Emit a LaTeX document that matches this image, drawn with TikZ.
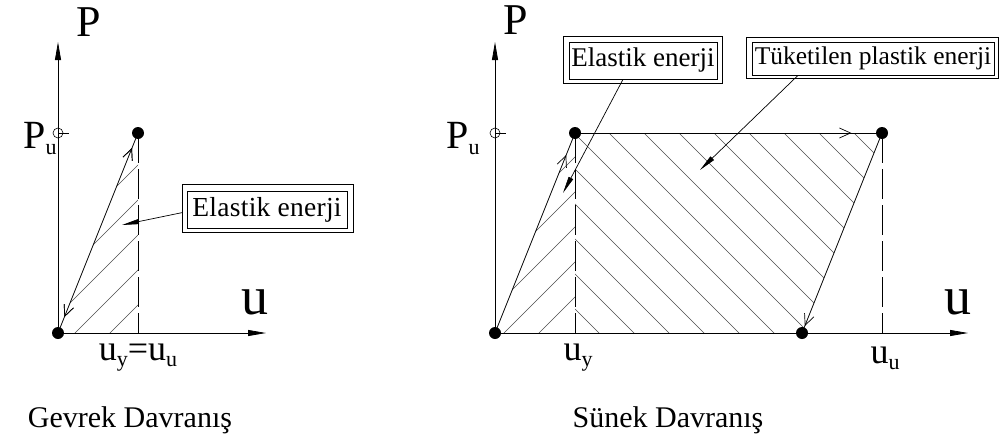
\documentclass[tikz,border=0pt]{standalone}
\usepackage{fontspec}
\setmainfont{Liberation Serif}
\usetikzlibrary{arrows.meta,decorations.markings}
\newcommand\fsz[1]{\fontsize{#1}{#1}\selectfont}
\newcommand\subs[1]{\raisebox{-6pt}{\fsz{22}#1}}
\begin{document}
\begin{tikzpicture}[x=1pt,y=-1pt,
  axis/.style={line width=0.8pt,-{Triangle[length=18pt,width=6pt]}},
  curve/.style={line width=0.8pt},
  hatch/.style={line width=0.6pt,black!70},
  dashv/.style={line width=0.8pt,dash pattern=on 30pt off 6pt},
  dot/.style={circle,fill=black,inner sep=0pt,minimum size=12pt},
  pmark/.style={circle,draw,line width=0.6pt,inner sep=0pt,minimum size=10pt},
  lbl/.style={inner sep=0pt},
  box/.style={draw,line width=0.7pt,inner sep=0pt},
  pointer/.style={line width=0.7pt,-{Triangle[length=17pt,width=5pt]}},
  barb/.style={decoration={markings,mark=at position #1 with {\arrow[line width=0.7pt]{Straight Barb[length=11pt,width=10pt]}}},postaction={decorate}},
  rbarb/.style={decoration={markings,mark=at position #1 with {\arrowreversed[line width=0.7pt]{Straight Barb[length=11pt,width=10pt]}}},postaction={decorate}}
]
\useasboundingbox (0,0) rectangle (1000,439);

% ================= LEFT: Gevrek =================
\coordinate (O1) at (58,333);
\coordinate (Y1) at (58,42);
\coordinate (X1) at (266,333);
\coordinate (B1) at (138,333);
% hatch
\begin{scope}
  \clip (58,333) -- (138,133) -- (138,333) -- cycle;
  \foreach \d in {110,75,40,5,-30}{
    \draw[hatch] (\d-100,433) -- (\d+200,133);
  }
\end{scope}
\draw[axis] (O1) -- (Y1);
\draw[axis] (O1) -- (X1);
\node[dot] (T1) at (138,133) {};
\node[dot] (D1) at (58,333) {};
\draw[dashv] (T1.center) -- (B1);
\draw[curve,barb=0.925,rbarb=0.08] (D1.center) -- (T1.center);
\node[pmark] (PM1) at (58,133) {};
\draw[line width=0.6pt] (PM1.center) -- ++(11,0);
\node[lbl,font=\fsz{44}] (P1) at (89,22) {P};
\node[lbl,font=\fsz{40}] (PU1) at (40,139) {P\subs{u}};
\node[lbl,font=\fsz{54}] (U1) at (255,302) {u};
\node[lbl,font=\fsz{36}] (UY1) at (138,358) {u\subs{y}=u\subs{u}};
\node[lbl,font=\fsz{30}] (C1) at (130,420) {Gevrek Davranış};
% box
\node[box,minimum width=160pt,minimum height=37pt,font=\fsz{27.5}] (E1) at (267,209.5) {\addfontfeature{LetterSpace=1}Elastik enerji};
\draw[line width=0.7pt] ([xshift=-4pt,yshift=6pt]E1.north west) rectangle ([xshift=6pt,yshift=-4pt]E1.south east);
\coordinate (E1t) at (122,225);
\draw[pointer] ([xshift=-4pt,yshift=-3pt]E1.west) -- (E1t);

% ================= RIGHT: Sunek =================
\coordinate (O2) at (495,333);
\coordinate (Y2) at (495,42);
\coordinate (X2) at (968,333);
\coordinate (B2y) at (575,333);
\coordinate (B2u) at (882,333);
\begin{scope}
  \clip (575,133) -- (882,133) -- (802,333) -- (575,333) -- cycle;
  \foreach \c in {599,634,...,1060}{
    \draw[hatch] (\c-250,83) -- (\c+50,383);
  }
\end{scope}
\begin{scope}
  \clip (495,333) -- (575,133) -- (575,333) -- cycle;
  \foreach \d in {539,504,469,434,399}{
    \draw[hatch] (\d-100,433) -- (\d+200,133);
  }
\end{scope}
\draw[axis] (O2) -- (Y2);
\draw[axis] (O2) -- (X2);
\node[dot] (D2) at (495,333) {};
\node[dot] (T2a) at (575,133) {};
\node[dot] (T2b) at (882,133) {};
\node[dot] (R2) at (802,333) {};
\draw[dashv] (T2a.center) -- (B2y);
\draw[dashv] (T2b.center) -- (B2u);
\draw[curve,barb=0.89] (D2.center) -- (T2a.center);
\draw[curve,barb=0.90] (T2a.center) -- (T2b.center);
\draw[curve,barb=0.965] (T2b.center) -- (R2.center);
\node[pmark] (PM2) at (495,133) {};
\draw[line width=0.6pt] (PM2.center) -- ++(11,0);
\node[lbl,font=\fsz{44}] (P2) at (516,20) {P};
\node[lbl,font=\fsz{40}] (PU2) at (463,139) {P\subs{u}};
\node[lbl,font=\fsz{54}] (U2) at (958,302) {u};
\node[lbl,font=\fsz{36}] (UY2) at (578,358) {u\subs{y}};
\node[lbl,font=\fsz{36}] (UU2) at (885,358) {u\subs{u}};
\node[lbl,font=\fsz{30}] (C2) at (668,420) {Sünek Davranış};
% boxes
\node[box,minimum width=148pt,minimum height=37pt,font=\fsz{27}] (E2) at (643,60.5) {Elastik enerji};
\draw[line width=0.7pt] ([xshift=-5pt,yshift=5pt]E2.north west) rectangle ([xshift=5pt,yshift=-4pt]E2.south east);
\node[box,minimum width=242pt,minimum height=33pt,font=\fsz{25.5}] (TP) at (873,58.5) {Tüketilen plastik enerji};
\draw[line width=0.7pt] ([xshift=-5pt,yshift=4pt]TP.north west) rectangle ([xshift=4pt,yshift=-3pt]TP.south east);
\coordinate (E2t) at (563,193);
\coordinate (TPt) at (700,170);
\draw[pointer] ([xshift=-20pt]E2.south) -- (E2t);
\draw[pointer] ([xshift=-75pt]TP.south) -- (TPt);
\end{tikzpicture}
\end{document}
